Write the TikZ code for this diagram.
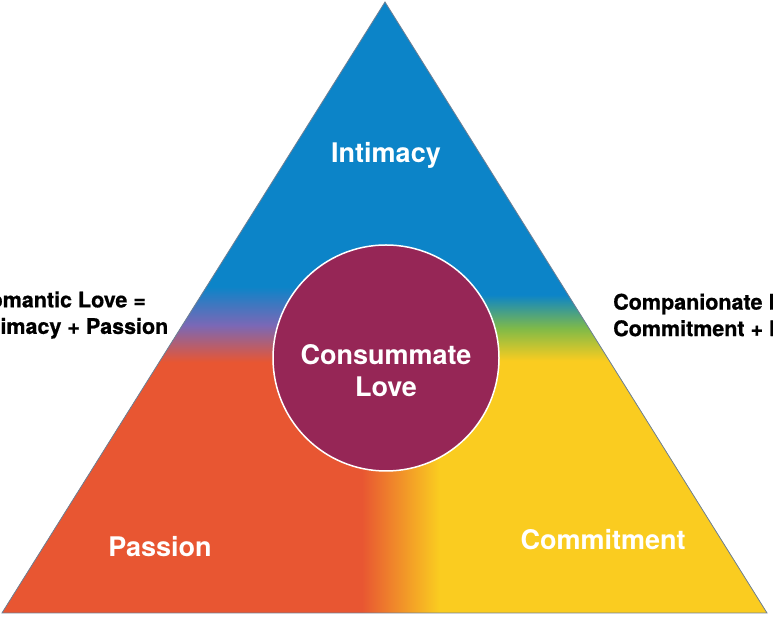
\documentclass[tikz,border=0pt]{standalone}
\usepackage{fontspec}
\setmainfont{TeX Gyre Heros}
\newfontfamily\heavyfont{texgyreheros-bold.otf}[FakeBold=0.8]
\definecolor{intimacy}{RGB}{12,132,200}
\definecolor{passion}{RGB}{232,86,50}
\definecolor{commitment}{RGB}{250,204,32}
\definecolor{romantic}{RGB}{122,104,182}
\definecolor{companionate}{RGB}{128,186,72}
\definecolor{consummate}{RGB}{150,38,86}
\definecolor{rim}{RGB}{112,128,148}
\pgfdeclareverticalshading{romanticband}{100bp}{color(0bp)=(passion); color(62.8bp)=(passion); color(68.3bp)=(romantic); color(74bp)=(intimacy); color(100bp)=(intimacy)}
\pgfdeclareverticalshading{companionateband}{100bp}{color(0bp)=(commitment); color(63bp)=(commitment); color(67.8bp)=(companionate); color(72.8bp)=(intimacy); color(100bp)=(intimacy)}
\pgfdeclarehorizontalshading{lowerband}{100bp}{color(0bp)=(passion); color(48.4bp)=(passion); color(53.4bp)=(commitment); color(100bp)=(commitment)}
\tikzstyle{core}=[circle, minimum size=226pt, inner sep=0pt, fill=consummate, draw=white, line width=1.5pt]
\tikzstyle{face}=[text=white, font=\fontsize{27}{32}\selectfont\bfseries, inner sep=0pt]
\tikzstyle{side}=[text=black, font=\fontsize{21.5}{26.5}\selectfont\heavyfont, inner sep=0pt, align=left, anchor=west]
\begin{document}
\begin{tikzpicture}[x=1pt,y=1pt]
  \clip (0,0) rectangle (773,617);
  \coordinate (apex) at (385,615);
  \coordinate (left) at (2,4);
  \coordinate (right) at (767,4);

  %% Coloured triangle
  \begin{scope}
    \clip (apex) -- (left) -- (right) -- cycle;
    \fill[intimacy] (0,0) rectangle (773,617);
    \shade[shading=romanticband] (0,0) rectangle (400,337);
    \shade[shading=companionateband] (400,0) rectangle (773,337);
    \shade[shading=lowerband] (0,0) rectangle (773,217);
  \end{scope}
  \draw[rim, line width=0.8pt] (apex) -- (left) -- (right) -- cycle;

  \draw (386,259) node[core] (C) {};
  \draw (386,246) node[face, align=center] (CL) {Consummate\\Love};

  \draw (386,454) node[face, anchor=base] (I) {Intimacy};
  \draw (160,60) node[face, anchor=base] (P) {Passion};
  \draw (603,67) node[face, anchor=base] (Co) {Commitment};

  %% Side labels
  \draw (-26,302) node[side] (RL) {Romantic Love =\\Intimacy + Passion};
  \draw (613,302) node[side] (CpL) {Companionate Love =\\Commitment + Passion};
\end{tikzpicture}
\end{document}
